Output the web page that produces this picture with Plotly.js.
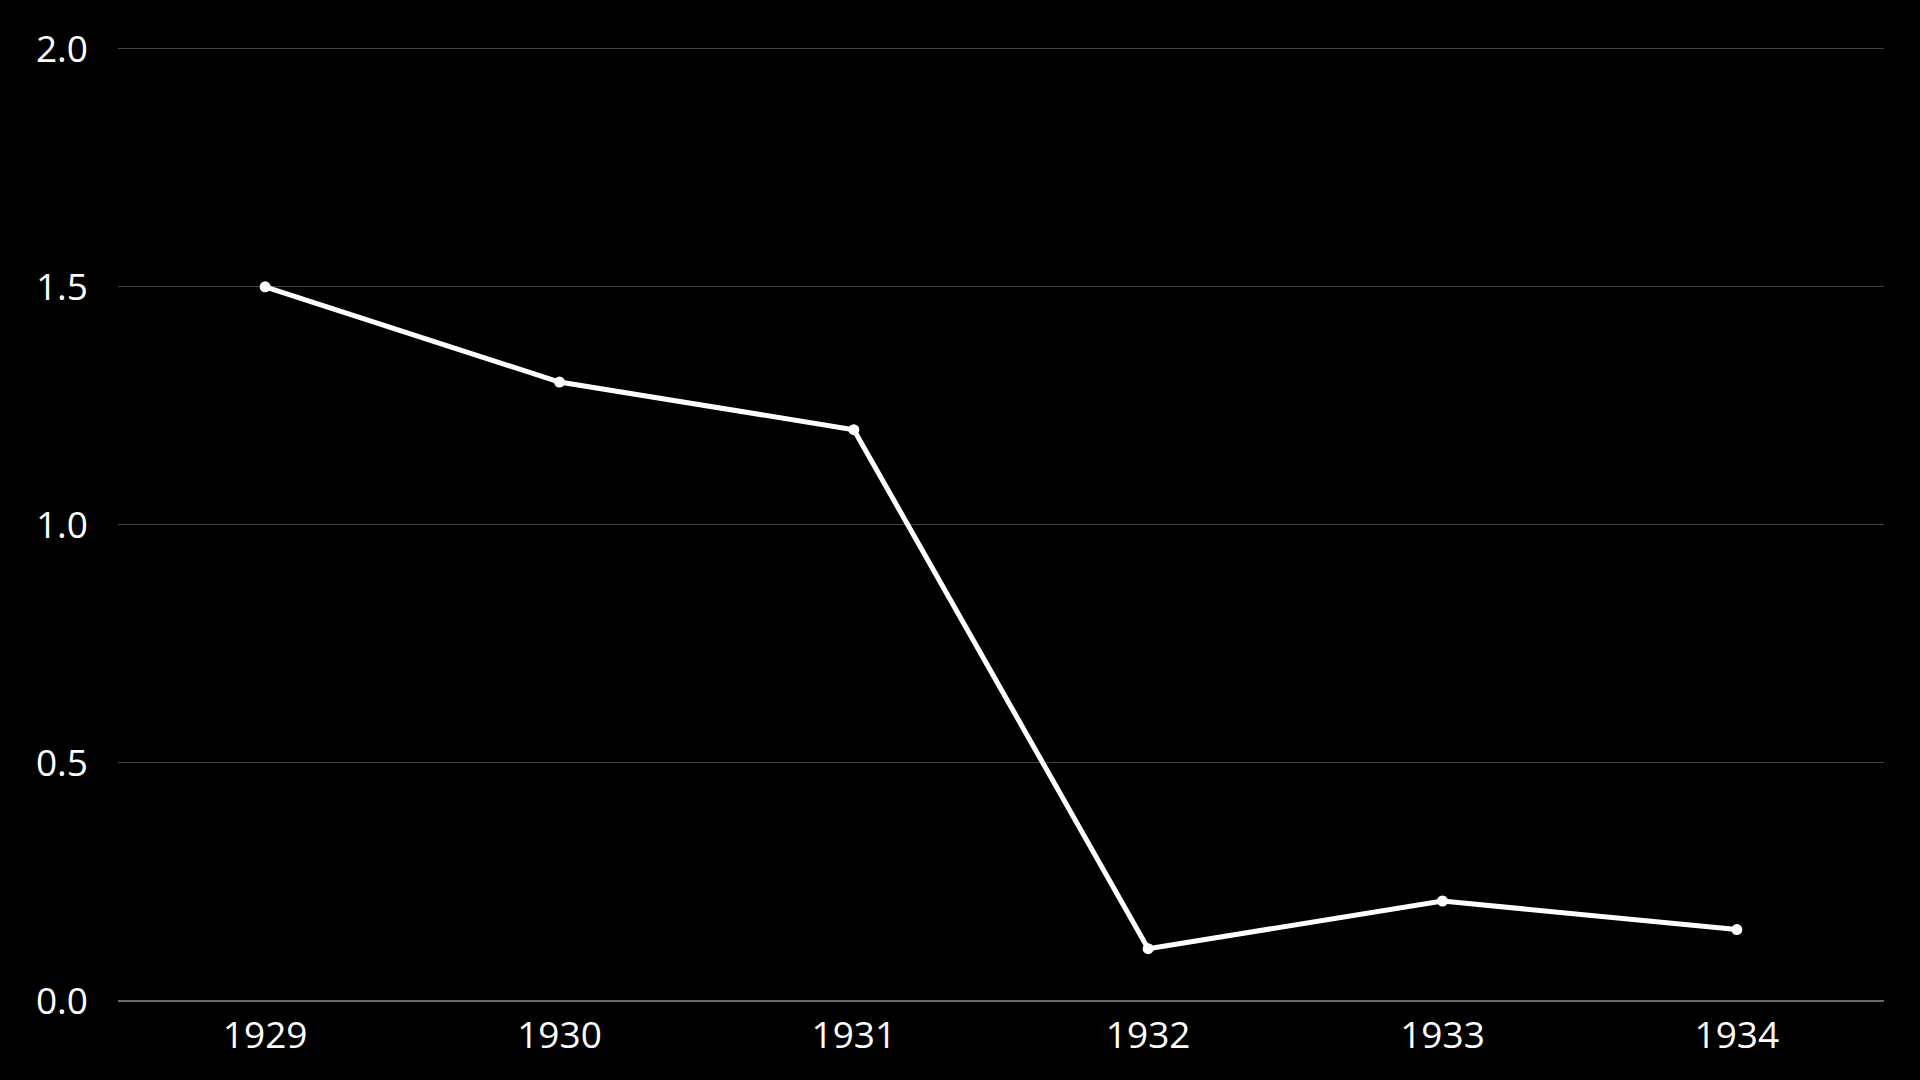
<!DOCTYPE html>
<html>
<head>
<meta charset="utf-8">
<script src="https://cdn.plot.ly/plotly-3.0.1.min.js"></script>
<style>html,body{margin:0;padding:0;background:#000;}#chart{width:1920px;height:1080px;}</style>
</head>
<body>
<div id="chart"></div>
<script>
const years = ["1929", "1930", "1931", "1932", "1933", "1934"];
const values = [1.5, 1.3, 1.2, 0.11, 0.21, 0.15];
const yTicks = [0, 0.5, 1.0, 1.5, 2.0];
const yTickLabels = ["0.0", "0.5", "1.0", "1.5", "2.0"];

const trace = {
  x: years,
  y: values,
  type: "scatter",
  mode: "lines+markers",
  line: {color: "#ffffff", width: 5},
  marker: {color: "#ffffff", size: 11},
  hoverinfo: "skip"
};

const layout = {
  width: 1920,
  height: 1080,
  paper_bgcolor: "#000000",
  plot_bgcolor: "#000000",
  showlegend: false,
  margin: {l: 118, r: 36, t: 44, b: 79},
  font: {family: "'Open Sans', 'Noto Sans', sans-serif", color: "#ffffff", size: 37},
  xaxis: {
    type: "category",
    range: [-0.5, 5.5],
    showgrid: false,
    zeroline: false,
    showline: false,
    ticks: "",
    tickfont: {size: 37, color: "#ffffff"},
    ticklabelstandoff: 9
  },
  yaxis: {
    range: [0, 2.01],
    tickvals: yTicks,
    ticktext: yTickLabels,
    showgrid: true,
    gridcolor: "#444444",
    gridwidth: 1,
    zeroline: true,
    zerolinecolor: "#6a6a6a",
    zerolinewidth: 2,
    showline: false,
    ticks: "",
    tickfont: {size: 37, color: "#ffffff"},
    ticklabelstandoff: 29
  }
};

Plotly.newPlot("chart", [trace], layout, {displayModeBar: false, staticPlot: true});
</script>
</body>
</html>
